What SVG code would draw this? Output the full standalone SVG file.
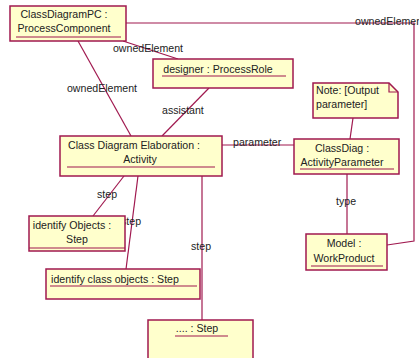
<svg xmlns="http://www.w3.org/2000/svg" width="419" height="358" viewBox="0 0 419 358">
  <style>
    .box { fill: #FFFFCC; stroke: #A0194F; stroke-width: 1.5; }
    .ul { stroke: #A0194F; stroke-width: 1.2; fill: none; }
    .edge { stroke: #A0194F; stroke-width: 1.2; fill: none; }
    text { font-family: "Liberation Sans", Arial, sans-serif; font-size: 10.6px; fill: #222222; }
    .c { text-anchor: middle; }
  </style>
  <rect width="419" height="358" fill="#FFFFFF"/>

  <!-- connectors -->
  <g id="connectors">
    <line class="edge" x1="78" y1="41" x2="131" y2="136"/>
    <line class="edge" x1="123" y1="41" x2="178" y2="59"/>
    <polyline class="edge" points="126,23 414,23 414,241 387,245"/>
    <line class="edge" x1="209" y1="88" x2="162" y2="136"/>
    <line class="edge" x1="222" y1="145" x2="294" y2="145"/>
    <line class="edge" x1="353" y1="118" x2="350" y2="139"/>
    <line class="edge" x1="347" y1="174" x2="347" y2="234"/>
    <line class="edge" x1="124" y1="176" x2="93" y2="216"/>
    <line class="edge" x1="138" y1="176" x2="126" y2="269"/>
    <line class="edge" x1="202" y1="176" x2="202" y2="320"/>
    <text class="c" x="148" y="52">ownedElement</text>
    <text class="c" x="102" y="92">ownedElement</text>
    <text x="355" y="25">ownedElement</text>
    <text x="162" y="114">assistant</text>
    <text x="233" y="146">parameter</text>
    <text x="336" y="205">type</text>
    <text x="97" y="198">step</text>
    <text x="121" y="225">step</text>
    <text x="191" y="250">step</text>
  </g>

  <g id="processComponent">
    <rect class="box" x="10" y="6" width="116" height="35"/>
    <text class="c" x="64" y="18">ClassDiagramPC :</text>
    <text class="c" x="64" y="32">ProcessComponent</text>
    <line class="ul" x1="16" y1="37" x2="121" y2="37"/>
  </g>

  <g id="processRole">
    <rect class="box" x="153" y="59" width="140" height="29"/>
    <text class="c" x="218" y="73">designer : ProcessRole</text>
    <line class="ul" x1="162" y1="76" x2="286" y2="76"/>
  </g>

  <g id="activity">
    <rect class="box" x="60" y="136" width="162" height="40"/>
    <text class="c" x="134" y="149">Class Diagram Elaboration :</text>
    <text class="c" x="140" y="163">Activity</text>
    <line class="ul" x1="67" y1="167" x2="215" y2="167"/>
  </g>

  <g id="note">
    <path class="box" d="M313,83 H389 L398,92 V118 H313 Z"/>
    <path class="ul" d="M389,83 V92 H398"/>
    <text x="316" y="94">Note: [Output</text>
    <text x="316" y="108">parameter]</text>
  </g>

  <g id="activityParameter">
    <rect class="box" x="294" y="139" width="105" height="35"/>
    <text class="c" x="342" y="152">ClassDiag :</text>
    <text class="c" x="342" y="166">ActivityParameter</text>
    <line class="ul" x1="300" y1="169" x2="394" y2="169"/>
  </g>

  <g id="workProduct">
    <rect class="box" x="306" y="234" width="81" height="36"/>
    <text class="c" x="344" y="247">Model :</text>
    <text class="c" x="344" y="262">WorkProduct</text>
    <line class="ul" x1="311" y1="266" x2="383" y2="266"/>
  </g>

  <g id="stepIdentifyObjects">
    <rect class="box" x="29" y="216" width="96" height="35"/>
    <text class="c" x="72" y="229">identify Objects :</text>
    <text class="c" x="77" y="243">Step</text>
    <line class="ul" x1="29" y1="248" x2="125" y2="248"/>
  </g>

  <g id="stepIdentifyClassObjects">
    <rect class="box" x="46" y="269" width="154" height="30"/>
    <text class="c" x="115" y="283">identify class objects : Step</text>
    <line class="ul" x1="50" y1="286" x2="197" y2="286"/>
  </g>

  <g id="stepMore">
    <rect class="box" x="148" y="320" width="105" height="42"/>
    <text class="c" x="197" y="332">.... : Step</text>
    <line class="ul" x1="175" y1="336" x2="228" y2="336"/>
  </g>
</svg>
